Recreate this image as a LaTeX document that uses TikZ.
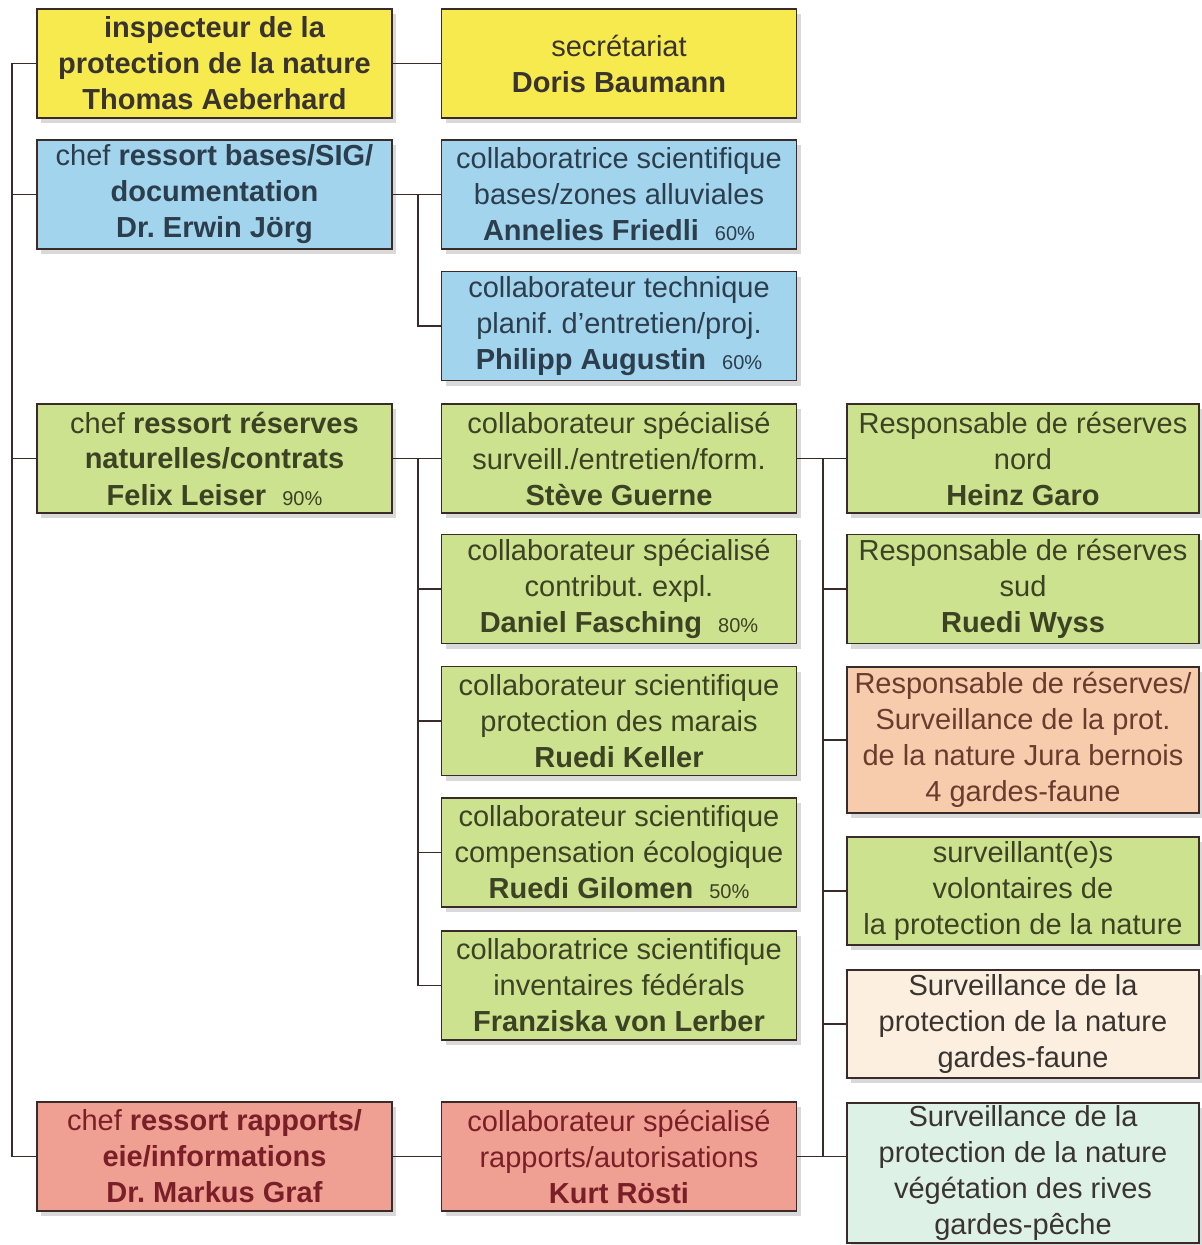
\documentclass[tikz,border=0pt]{standalone}
\usepackage{fontspec}
\setmainfont{Liberation Sans}
\usetikzlibrary{shadows}
\frenchspacing

\definecolor{boxedge}{HTML}{3A2A2A}
\definecolor{linecol}{HTML}{3A2A2A}
\definecolor{cyellow}{HTML}{F6EA4E}
\definecolor{cblue}{HTML}{A2D4EE}
\definecolor{cgreen}{HTML}{CDE28E}
\definecolor{cred}{HTML}{EFA092}
\definecolor{corange}{HTML}{F7CCAC}
\definecolor{ccream}{HTML}{FCEFDF}
\definecolor{cmint}{HTML}{DEF1E7}
\definecolor{txtdark}{HTML}{3A3430}
\definecolor{txtblue}{HTML}{2C3E4C}
\definecolor{txtgreen}{HTML}{3C4224}
\definecolor{txtred}{HTML}{7A1F28}
\definecolor{txtbrown}{HTML}{6A3C2E}

\newcommand{\pcnt}[1]{\hspace{16pt}{\fontsize{20}{24}\selectfont\mdseries #1\%}}

\begin{document}
\begin{tikzpicture}[x=1pt,y=-1pt]
    \tikzstyle{unit} = [draw=boxedge, line width=1.5pt, align=center, inner sep=0pt,
        minimum width=355pt, minimum height=109pt, text=txtdark,
        font=\fontsize{29}{36}\selectfont,
        drop shadow={shadow xshift=4pt, shadow yshift=-5pt, opacity=0.3}]
    \tikzstyle{side} = [unit, minimum width=352pt]
    \tikzstyle{allbold} = [font=\fontsize{29}{36}\selectfont\bfseries]
    \tikzstyle{link} = [draw=linecol, line width=1.8pt]

    \useasboundingbox (0,0) rectangle (1202,1245);

    % left column
    \node[unit, allbold, fill=cyellow] (insp) at (214.5,63.5)
        {inspecteur de la\\protection de la nature\\Thomas Aeberhard};
    \node[unit, fill=cblue, text=txtblue] (bases) at (214.5,194.5)
        {chef \textbf{ressort bases/SIG/}\\\textbf{documentation}\\\textbf{Dr. Erwin Jörg}};
    \node[unit, fill=cgreen, text=txtgreen] (reserves) at (214.5,458.5)
        {chef \textbf{ressort réserves}\\\textbf{naturelles/contrats}\\\textbf{Felix Leiser}\pcnt{90}};
    \node[unit, fill=cred, text=txtred] (graf) at (214.5,1156.5)
        {chef \textbf{ressort rapports/}\\\textbf{eie/informations}\\\textbf{Dr. Markus Graf}};

    % middle column
    \node[unit, fill=cyellow] (secr) at (619,63.5)
        {secrétariat\\\textbf{Doris Baumann}};
    \node[unit, fill=cblue, text=txtblue] (friedli) at (619,194.5)
        {collaboratrice scientifique\\bases/zones alluviales\\\textbf{Annelies Friedli}\pcnt{60}};
    \node[unit, fill=cblue, text=txtblue] (augustin) at (619,326)
        {collaborateur technique\\planif. d'entretien/proj.\\\textbf{Philipp Augustin}\pcnt{60}};
    \node[unit, fill=cgreen, text=txtgreen] (guerne) at (619,458.5)
        {collaborateur spécialisé\\surveill./entretien/form.\\\textbf{Stève Guerne}};
    \node[unit, fill=cgreen, text=txtgreen] (fasching) at (619,589)
        {collaborateur spécialisé\\contribut. expl.\\\textbf{Daniel Fasching}\pcnt{80}};
    \node[unit, fill=cgreen, text=txtgreen] (keller) at (619,721)
        {collaborateur scientifique\\protection des marais\\\textbf{Ruedi Keller}};
    \node[unit, fill=cgreen, text=txtgreen] (gilomen) at (619,852.5)
        {collaborateur scientifique\\compensation écologique\\\textbf{Ruedi Gilomen}\pcnt{50}};
    \node[unit, fill=cgreen, text=txtgreen] (lerber) at (619,985.5)
        {collaboratrice scientifique\\inventaires fédérals\\\textbf{Franziska von Lerber}};
    \node[unit, fill=cred, text=txtred] (rosti) at (619,1156.5)
        {collaborateur spécialisé\\rapports/autorisations\\\textbf{Kurt Rösti}};

    % right column
    \node[side, fill=cgreen, text=txtgreen] (garo) at (1023,458.5)
        {Responsable de réserves\\nord\\\textbf{Heinz Garo}};
    \node[side, fill=cgreen, text=txtgreen] (wyss) at (1023,589)
        {Responsable de réserves\\sud\\\textbf{Ruedi Wyss}};
    \node[side, fill=corange, text=txtbrown, minimum height=146pt] (jura) at (1023,740)
        {Responsable de réserves/\\Surveillance de la prot.\\de la nature Jura bernois\\4 gardes-faune};
    \node[side, fill=cgreen, text=txtgreen, minimum height=108pt] (benevoles) at (1023,891)
        {surveillant(e)s\\volontaires de\\la protection de la nature};
    \node[side, fill=ccream, minimum height=108pt] (faune) at (1023,1024)
        {Surveillance de la\\protection de la nature\\gardes-faune};
    \node[side, fill=cmint, minimum height=140pt] (peche) at (1023,1173)
        {Surveillance de la\\protection de la nature\\végétation des rives\\gardes-pêche};

    % connectors
    \coordinate (spine) at (12,0);
    \coordinate (midspine) at (418,0);
    \coordinate (rightspine) at (823,0);

    \draw[link] (insp.west) -- (insp.west -| spine) -- (graf.west -| spine) -- (graf.west);
    \draw[link] (bases.west) -- (bases.west -| spine);
    \draw[link] (reserves.west) -- (reserves.west -| spine);

    \draw[link] (insp.east) -- (insp.east -| secr.west);
    \draw[link] (bases.east) -- (friedli.west);
    \draw[link] (bases.east -| midspine) -- (augustin.west -| midspine) -- (augustin.west);

    \draw[link] (reserves.east) -- (guerne.west);
    \draw[link] (reserves.east -| midspine) -- (lerber.west -| midspine) -- (lerber.west);
    \foreach \n in {fasching, keller, gilomen}
        \draw[link] (\n.west -| midspine) -- (\n.west);

    \draw[link] (graf.east) -- (rosti.west);

    \draw[link] (guerne.east) -- (garo.west);
    \draw[link] (rosti.east) -- (rosti.east -| peche.west);
    \draw[link] (guerne.east -| rightspine) -- (rosti.east -| rightspine);
    \foreach \n in {wyss, jura, benevoles, faune}
        \draw[link] (\n.west -| rightspine) -- (\n.west);
\end{tikzpicture}
\end{document}
